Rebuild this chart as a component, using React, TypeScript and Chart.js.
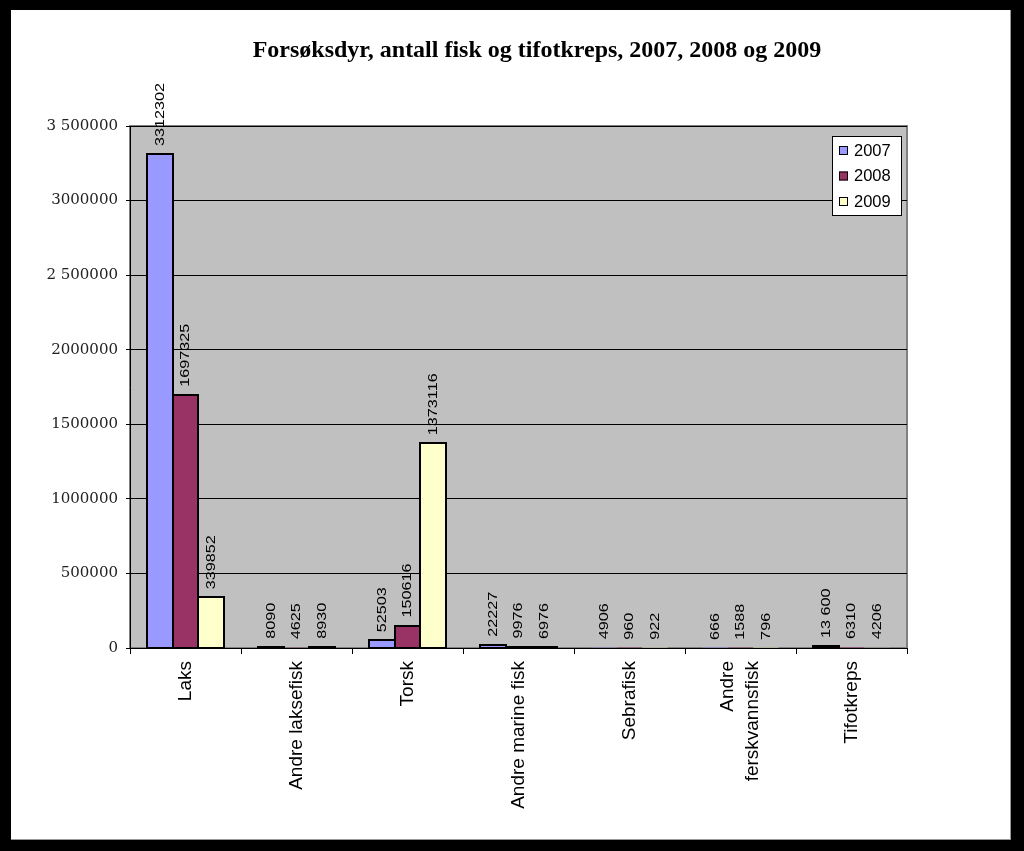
import React, { useEffect, useRef } from 'react';
import { Chart, registerables } from 'chart.js';

Chart.register(...registerables);

const chartTitle = 'Forsøksdyr, antall fisk og tifotkreps, 2007, 2008 og 2009';
const categories: (string | string[])[] = [
  'Laks',
  'Andre laksefisk',
  'Torsk',
  'Andre marine fisk',
  'Sebrafisk',
  ['Andre', 'ferskvannsfisk'],
  'Tifotkreps',
];
const seriesNames = ['2007', '2008', '2009'];
const values2007 = [3312302, 8090, 52503, 22227, 4906, 666, 13600];
const values2008 = [1697325, 4625, 150616, 9976, 960, 1588, 6310];
const values2009 = [339852, 8930, 1373116, 6976, 922, 796, 4206];
const valueLabels2007 = ['3312302', '8090', '52503', '22227', '4906', '666', '13 600'];
const valueLabels2008 = ['1697325', '4625', '150616', '9976', '960', '1588', '6310'];
const valueLabels2009 = ['339852', '8930', '1373116', '6976', '922', '796', '4206'];
const yTickValues = [0, 500000, 1000000, 1500000, 2000000, 2500000, 3000000, 3500000];
const yTickLabels = ['0', '500000', '1000000', '1500000', '2000000', '2 500000', '3000000', '3 500000'];
const seriesColors = ['#9999FF', '#993366', '#FFFFCC'];

const valueLabels = [valueLabels2007, valueLabels2008, valueLabels2009];

const decorPlugin = {
  id: 'decor',
  beforeDraw(chart: any) {
    const { ctx, chartArea: a } = chart;
    ctx.save();
    ctx.fillStyle = '#C0C0C0';
    ctx.fillRect(a.left, a.top, a.right - a.left, a.bottom - a.top);
    ctx.strokeStyle = '#808080';
    ctx.lineWidth = 2;
    ctx.strokeRect(a.left, a.top, a.right - a.left, a.bottom - a.top);
    ctx.restore();
  },
  afterDatasetsDraw(chart: any) {
    const { ctx } = chart;
    const ys = chart.scales.y;
    const zero = ys.getPixelForValue(0);
    ctx.save();
    // bar outlines (drawn only where the bar is at least one pixel high)
    ctx.strokeStyle = '#000';
    ctx.lineWidth = 2;
    chart.data.datasets.forEach((ds: any, di: number) => {
      const meta = chart.getDatasetMeta(di);
      meta.data.forEach((bar: any, i: number) => {
        const top = ys.getPixelForValue(ds.data[i]);
        if (zero - top < 1) return;
        const y0 = Math.round(top);
        const y1 = Math.max(Math.round(zero), y0 + 1);
        const l = Math.round(bar.x - bar.width / 2);
        const r = Math.round(bar.x + bar.width / 2);
        ctx.strokeRect(l, y0, r - l, y1 - y0);
      });
    });

    ctx.fillStyle = '#000';
    ctx.font = '13.5px "Liberation Sans", Arial, sans-serif';
    ctx.textAlign = 'left';
    ctx.textBaseline = 'middle';
    chart.data.datasets.forEach((ds: any, di: number) => {
      const meta = chart.getDatasetMeta(di);
      meta.data.forEach((bar: any, i: number) => {
        const txt = valueLabels[di][i];
        ctx.save();
        ctx.translate(bar.x, bar.y - 8);
        ctx.rotate(-Math.PI / 2);
        ctx.scale(1.2, 1);
        ctx.fillText(txt, 0, 0);
        ctx.restore();
      });
    });
    ctx.restore();
  },
  afterDraw(chart: any) {
    const { ctx, chartArea: a } = chart;
    const xs = chart.scales.x;
    ctx.save();
    // title
    ctx.fillStyle = '#000';
    ctx.font = 'bold 24px "Liberation Serif", "Times New Roman", serif';
    ctx.textAlign = 'center';
    ctx.textBaseline = 'alphabetic';
    ctx.fillText(chartTitle, 537, 57);

    // category labels
    ctx.font = '19px "Liberation Sans", Arial, sans-serif';
    ctx.textAlign = 'right';
    ctx.textBaseline = 'middle';
    const lh = 25;
    (chart.data.labels as any[]).forEach((lab: any, i: number) => {
      const lines = Array.isArray(lab) ? lab : [lab];
      const px = xs.getPixelForTick(i);
      lines.forEach((ln: string, j: number) => {
        const cx = px + (j - (lines.length - 1) / 2) * lh;
        ctx.save();
        ctx.translate(cx, a.bottom + 13);
        ctx.rotate(-Math.PI / 2);
        ctx.fillText(ln, 0, 0);
        ctx.restore();
      });
    });

    // legend
    const bw = 69;
    const bh = 79;
    const bx = a.right - 75;
    const by = a.top + 10;
    ctx.fillStyle = '#fff';
    ctx.fillRect(bx, by, bw, bh);
    ctx.strokeStyle = '#000';
    ctx.lineWidth = 1;
    ctx.strokeRect(bx + 0.5, by + 0.5, bw, bh);
    ctx.font = '16.5px "Liberation Sans", Arial, sans-serif';
    ctx.textAlign = 'left';
    ctx.textBaseline = 'middle';
    chart.data.datasets.forEach((ds: any, di: number) => {
      const cy = by + 14 + di * 25.5;
      ctx.fillStyle = ds.backgroundColor;
      ctx.fillRect(bx + 7, cy - 4, 9, 9);
      ctx.strokeStyle = '#000';
      ctx.strokeRect(bx + 7.5, cy - 3.5, 8, 8);
      ctx.fillStyle = '#000';
      ctx.fillText(ds.label, bx + 22, cy + 1);
    });
    ctx.restore();
  },
};

export default function App() {
  const ref = useRef<HTMLCanvasElement | null>(null);

  useEffect(() => {
    if (!ref.current) return;
    const chart = new Chart(ref.current, {
      type: 'bar',
      data: {
        labels: categories as any,
        datasets: [values2007, values2008, values2009].map((vals, i) => ({
          label: seriesNames[i],
          data: vals,
          backgroundColor: seriesColors[i],
          borderColor: '#000',
          borderWidth: 0,
          categoryPercentage: 0.685,
          barPercentage: 1,
        })),
      },
      options: {
        responsive: false,
        animation: false,
        layout: { padding: { top: 126, right: 117, bottom: 0, left: 0 } },
        plugins: {
          legend: { display: false },
          title: { display: false },
          tooltip: { enabled: false },
        },
        scales: {
          x: {
            grid: { drawOnChartArea: false, drawTicks: true, tickLength: 6, color: '#000', offset: true },
            border: { color: '#000', width: 1 },
            ticks: { display: false },
            afterFit: (s: any) => {
              s.height = 203;
            },
          },
          y: {
            min: 0,
            max: 3500000,
            ticks: {
              stepSize: 500000,
              padding: 8,
              color: '#222',
              font: { family: '"DejaVu Serif", serif', size: 15 },
              callback: (v: any) => {
                const k = yTickValues.indexOf(Number(v));
                return k >= 0 ? yTickLabels[k] : '';
              },
            },
            grid: { color: '#000', tickLength: 4, lineWidth: 1 },
            border: { color: '#000', width: 1 },
            afterFit: (s: any) => {
              s.width = 130;
            },
          },
        },
      },
      plugins: [decorPlugin],
    });
    return () => chart.destroy();
  }, []);

  return (
    <div style={{ position: 'fixed', left: 0, top: 0, width: 1024, height: 851, background: '#000' }}>
      <div
        style={{
          position: 'absolute',
          left: 11,
          top: 10,
          width: 999,
          height: 829,
          background: '#fff',
          borderRight: '1px solid #999',
          borderBottom: '1px solid #999',
        }}
      />
      <canvas ref={ref} width={1024} height={851} style={{ position: 'absolute', left: 0, top: 0, width: 1024, height: 851 }} />
    </div>
  );
}
